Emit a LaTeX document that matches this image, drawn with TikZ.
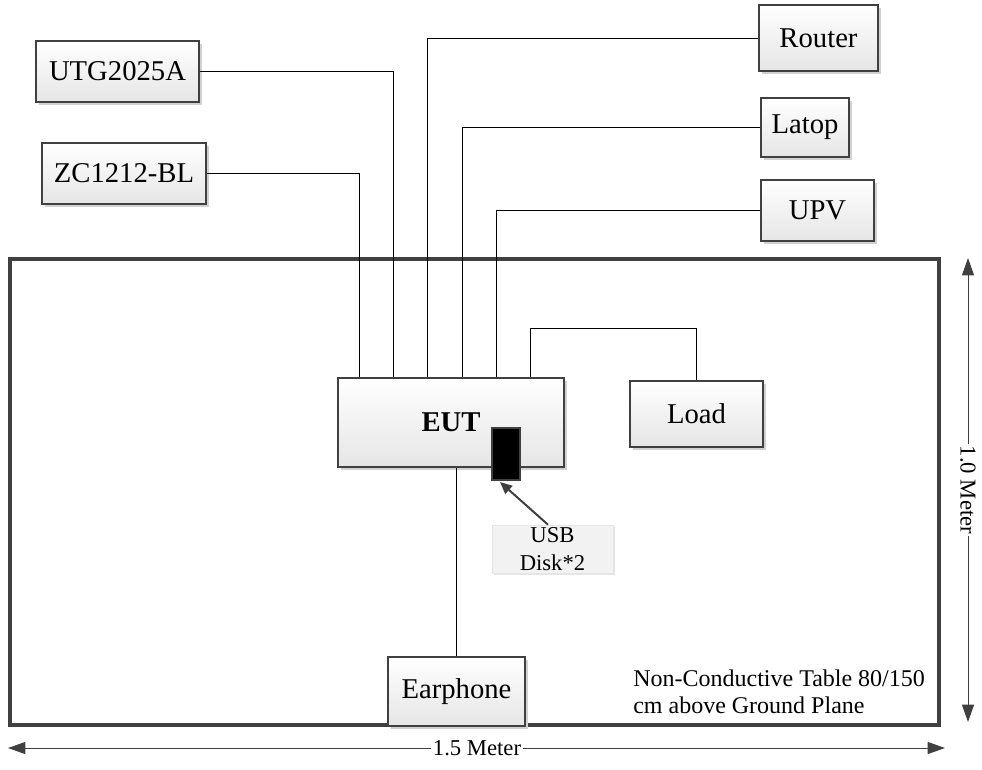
\documentclass[tikz,border=0pt]{standalone}
\usepackage{fontspec}
\setmainfont{Liberation Serif}
\usetikzlibrary{arrows.meta,shadows,calc}
\definecolor{edge}{HTML}{404040}
\newcommand{\pxu}{0.75pt}
\begin{document}
\begin{tikzpicture}[x=0.75pt,y=-0.75pt,
  devbox/.style={draw=edge, line width=1.6pt, top color=white, bottom color=black!10,
    drop shadow={shadow xshift=2.2pt, shadow yshift=-2.2pt, fill=black!18, opacity=1},
    inner sep=0pt, font=\fontsize{21.5}{25}\selectfont},
  wire/.style={draw=black, line width=0.75pt},
  dimarrow/.style={draw=edge, line width=0.75pt, {Triangle[length=13pt,width=9pt]}-{Triangle[length=13pt,width=9pt]}},
  small/.style={font=\fontsize{17}{20}\selectfont}]
\useasboundingbox (0,0) rectangle (982,769);

% table
\draw[draw=edge, line width=2.4pt] (10,259) rectangle (939,725);

% devices
\node[devbox, minimum width=163*\pxu, minimum height=61*\pxu] (utg) at (117.5,71.5) {UTG2025A};
\node[devbox, minimum width=164*\pxu, minimum height=61*\pxu] (zc) at (124,173.5) {ZC1212-BL};
\node[devbox, minimum width=119*\pxu, minimum height=66*\pxu] (router) at (818.5,38) {Router};
\node[devbox, minimum width=88*\pxu, minimum height=59*\pxu] (latop) at (805,127.5) {Latop};
\node[devbox, minimum width=113*\pxu, minimum height=61*\pxu] (upv) at (817.5,210.5) {UPV};
\node[devbox, minimum width=226*\pxu, minimum height=89*\pxu] (eut) at (451,422.5) {\textbf{EUT}};
\node[devbox, minimum width=133*\pxu, minimum height=66*\pxu] (load) at (696.5,414) {Load};
\node[devbox, minimum width=137*\pxu, minimum height=69*\pxu] (ear) at (456.5,691.5) {Earphone};

% USB disk
\node[draw=edge, line width=0.8pt, fill=black, minimum width=28*\pxu, minimum height=52*\pxu, inner sep=0pt] (usb) at (506,454) {};
\node[small, fill=black!5, draw=black!10, line width=0.5pt, minimum width=121*\pxu, minimum height=48*\pxu, inner sep=0pt, align=center,
  drop shadow={shadow xshift=1.5pt, shadow yshift=-1.5pt, fill=black!10, opacity=1}] (usbl) at (552.5,549) {USB\\[1pt]Disk*2};
\coordinate (usbtip) at (500,482);
\draw[draw=edge, line width=1.5pt, -{Triangle[length=9pt,width=8pt]}] (548,0 |- usbl.north) -- (usbtip);

% wires
\draw[wire] (zc.east) -| (359,0 |- eut.north);
\draw[wire] (utg.east) -| (393,0 |- eut.north);
\draw[wire] (router.west) -| (427,0 |- eut.north);
\draw[wire] (latop.west) -| (462,0 |- eut.north);
\draw[wire] (upv.west) -| (496,0 |- eut.north);
\draw[wire] (530,0 |- eut.north) -- (530,328) -| (load.north);
\draw[wire] (ear.north |- eut.south) -- (ear.north);

% table label
\node[anchor=west, align=left, inner sep=0pt, font=\fontsize{18}{20.3}\selectfont] (tbl) at (633,692) {Non-Conductive Table 80/150\\cm above Ground Plane};

% dimensions
\coordinate (vtop) at (968,258);
\coordinate (vbot) at (968,722);
\draw[dimarrow] (vtop) -- (vbot);
\node[small, fill=white, rotate=-90, inner sep=1.5pt] (vlab) at (968,490) {1.0 Meter};
\coordinate (hleft) at (8,748);
\coordinate (hright) at (945,748);
\draw[dimarrow] (hleft) -- (hright);
\node[small, fill=white, inner sep=1.5pt] (hlab) at (477,748) {1.5 Meter};
\end{tikzpicture}
\end{document}
